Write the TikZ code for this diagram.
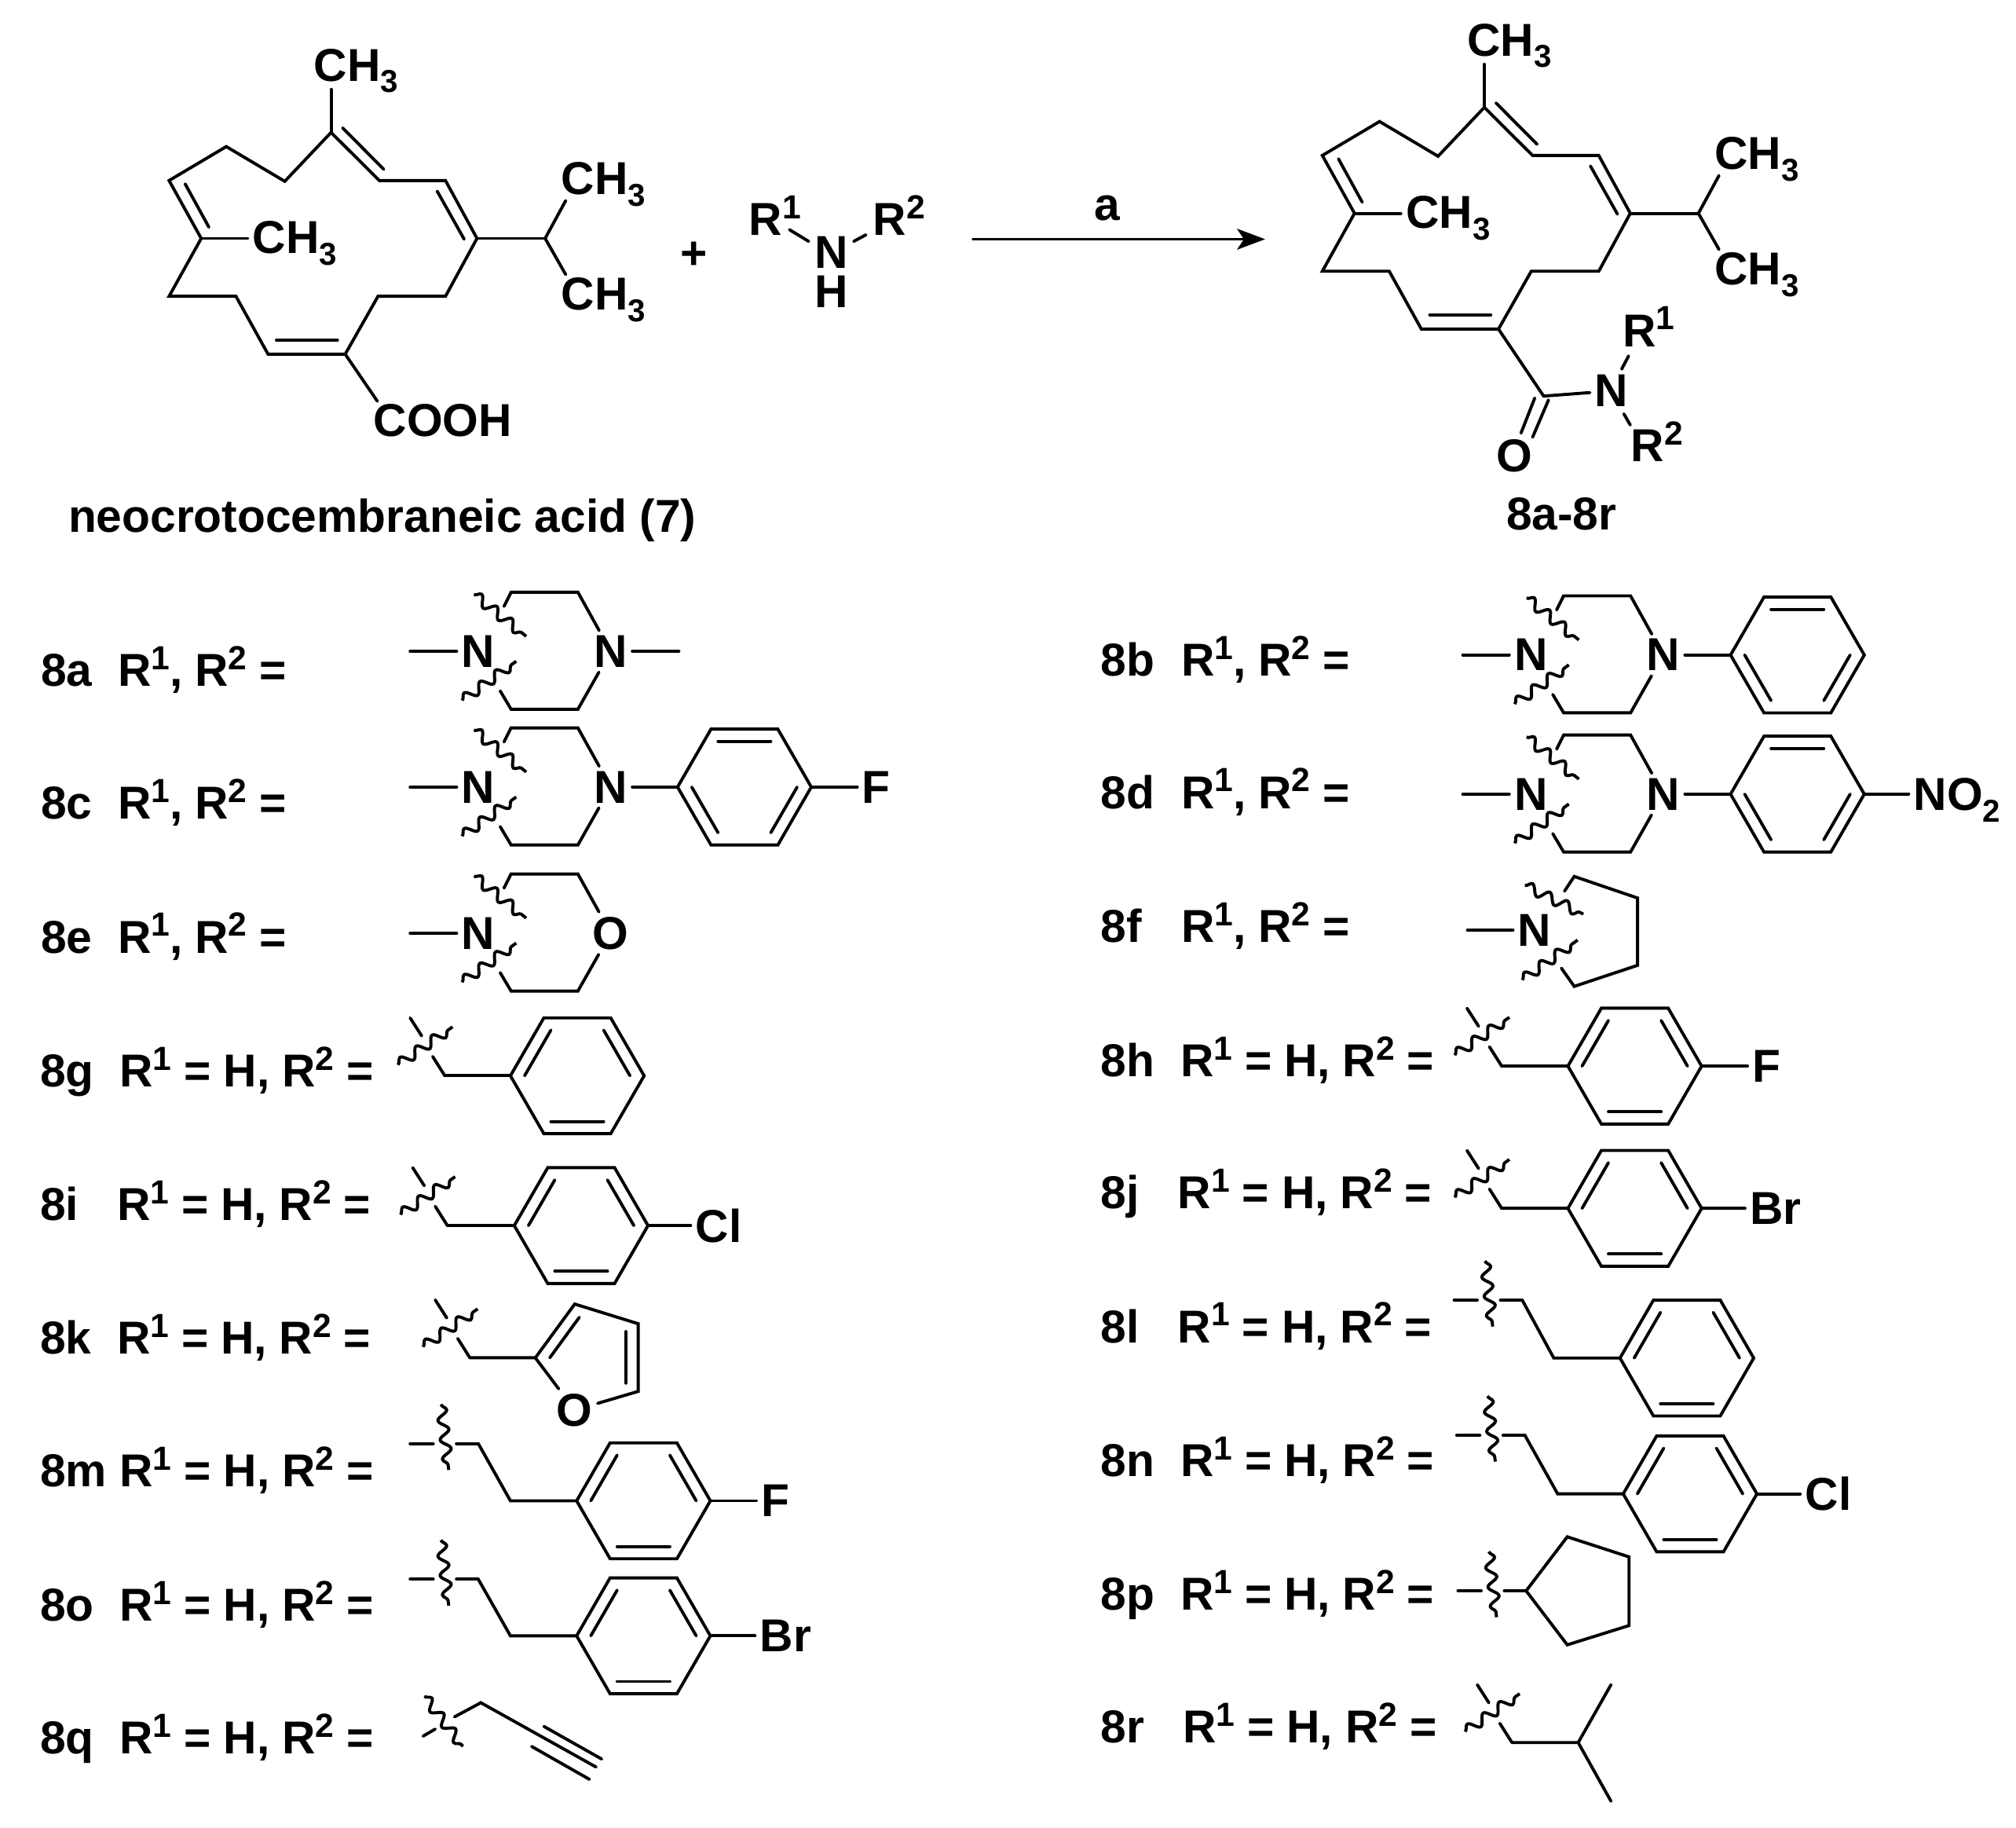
\documentclass[tikz,border=0pt]{standalone}
\usepackage{fontspec}
\setmainfont{Liberation Sans}
\usetikzlibrary{arrows.meta,decorations.pathmorphing}

\newcommand{\supnum}[1]{\raisebox{.36em}{\fontsize{7.4}{8}\selectfont #1}}
\newcommand{\subnum}[1]{\raisebox{-.25em}{\fontsize{7}{8}\selectfont #1}}
\newcommand{\tightgap}{\hspace{.27em}}
\newcommand{\rboth}{R\supnum{1},\tightgap R\supnum{2}\tightgap=}
\newcommand{\rhydro}{R\supnum{1}\tightgap=\tightgap H,\tightgap R\supnum{2}\tightgap=}

\tikzset{
  bond/.style={line width=.68pt, line cap=round},
  wave/.style={line width=.68pt, decorate, decoration={snake, segment length=4.3pt, amplitude=1.1pt}},
  atom/.style={inner sep=.9pt, font=\fontsize{10.2}{12}\selectfont\bfseries},
  chem/.style={atom, anchor=base west, xshift=-.015cm},
  lbl/.style={inner sep=0pt, anchor=base west, xshift=-.015cm, font=\fontsize{10.2}{12}\selectfont\bfseries},
  pics/cembrane/.style={code={
    \coordinate (-a) at (257.5,103);
    \coordinate (-b) at (295,140.4);
    \coordinate (-c) at (346.5,140.4);
    \coordinate (-d) at (371,185.4);
    \coordinate (-e) at (346.5,230.4);
    \coordinate (-f) at (294,230.4);
    \coordinate (-g) at (268.5,275.4);
    \coordinate (-h) at (208.5,275.4);
    \coordinate (-i) at (183.5,230.4);
    \coordinate (-j) at (131.5,230.4);
    \coordinate (-k) at (156.5,185.4);
    \coordinate (-l) at (131.5,140.4);
    \coordinate (-m) at (176,114);
    \coordinate (-n) at (221.5,141);
    \coordinate (-ipr) at (424,185.4);
    \coordinate (-ipa) at (440,156);
    \coordinate (-ipb) at (440,213.5);
    \coordinate (-mea) at (257.5,69.5);
    \coordinate (-meb) at (192.5,185.4);
    \node[chem] (-cha) at (241.8,63) {CH\subnum{3}};
    \node[chem] (-chb) at (194.3,197) {CH\subnum{3}};
    \node[chem] (-chc) at (434.3,151.4) {CH\subnum{3}};
    \node[chem] (-chd) at (434.3,241) {CH\subnum{3}};
    \draw[bond] (-a) -- (-b) -- (-c) -- (-d) -- (-e) -- (-f) -- (-g) -- (-h) -- (-i) -- (-j) -- (-k) -- (-l) -- (-m) -- (-n) -- cycle;
    \draw[bond] (266.5,99.5) -- (298.5,131.7);
    \draw[bond] (340,148.6) -- (361,186);
    \draw[bond] (215,264.5) -- (262.5,264.5);
    \draw[bond] (144,143) -- (162.5,176.7);
    \draw[bond] (-a) -- (-mea);
    \draw[bond] (-k) -- (-meb);
    \draw[bond] (-d) -- (-ipr);
    \draw[bond] (-ipa) -- (-ipr) -- (-ipb);
  }},
  pics/azine/.style={code={
    \node[atom] (-na) at (0,0) {N};
    \node[atom] (-nb) at (103,0) {#1};
    \coordinate (-t) at (-53,0);
    \coordinate (-a) at (25.5,-46);
    \coordinate (-b) at (77.5,-46);
    \coordinate (-c) at (77.5,45);
    \coordinate (-d) at (25.5,45);
    \coordinate (-e) at (20,-35);
    \coordinate (-f) at (17,30.7);
    \coordinate (-g) at (-3.4,-44.3);
    \coordinate (-h) at (37.3,-11.7);
    \coordinate (-i) at (-12.6,38.2);
    \coordinate (-j) at (29.5,7.7);
    \draw[bond] (-t) -- (-na);
    \draw[bond] (-e) -- (-a) -- (-b) -- (-nb);
    \draw[bond] (-f) -- (-d) -- (-c) -- (-nb);
    \draw[wave] (-g) -- (-h);
    \draw[wave] (-i) -- (-j);
  }},
  pics/phenyl/.style={code={
    \coordinate (-e) at (0:52);
    \coordinate (-w) at (180:52);
    \draw[bond] (-e) -- (60:52) -- (120:52) -- (-w) -- (240:52) -- (300:52) -- cycle;
    \draw[bond] (#1:41) -- (#1+60:41);
    \draw[bond] (#1+120:41) -- (#1+180:41);
    \draw[bond] (#1+240:41) -- (#1+300:41);
  }},
  pics/cutdiag/.style={code={
    \coordinate (-o) at (0,0);
    \coordinate (-s) at (-9.5,-15);
    \coordinate (-p) at (-36.5,-8.5);
    \coordinate (-q) at (6,-38);
    \coordinate (-u) at (-27,-45);
    \coordinate (-v) at (-18,-31);
    \draw[bond] (-s) -- (-o);
    \draw[wave] (-p) -- (-q);
    \draw[bond] (-u) -- (-v);
  }},
  pics/cutflat/.style={code={
    \coordinate (-o) at (0,0);
    \coordinate (-s) at (-17,0);
    \coordinate (-p) at (-29,-30.5);
    \coordinate (-q) at (-23,20.5);
    \coordinate (-u) at (-53,0);
    \coordinate (-v) at (-35,0);
    \draw[bond] (-s) -- (-o);
    \draw[wave] (-p) -- (-q);
    \draw[bond] (-u) -- (-v);
  }},
}

\begin{document}
\begin{tikzpicture}[x=0.01cm,y=-0.01cm]
  \useasboundingbox (0,0) rectangle (1568,1421.4);

  \pic (acid) at (0,0) {cembrane};
  \coordinate (acoo) at (293.5,312);
  \draw[bond] (acid-g) -- (acoo);
  \node[lbl] (cooh) at (291.5,339.5) {COOH};
  \node[lbl] (name) at (54,414) {neocrotocembraneic acid (7)};
  \node[atom] (plus) at (540,198.5) {+};

  \node[lbl] (rone) at (583.5,182.9) {R\supnum{1}};
  \node[lbl] (rtwo) at (680,182.9) {R\supnum{2}};
  \node[atom, inner sep=0pt, align=center, font=\fontsize{10.2}{8.54}\selectfont\bfseries] (amine) at (646.5,211.5) {N\\H};
  \coordinate (rea) at (614,178.6);
  \coordinate (reb) at (629,187.7);
  \coordinate (rec) at (664,187.7);
  \coordinate (red) at (673.5,182.6);
  \draw[bond] (rea) -- (reb);
  \draw[bond] (rec) -- (red);

  \coordinate (arra) at (757,186);
  \coordinate (arrb) at (984,186);
  \draw[bond, -{Stealth[length=6.2pt,width=4.6pt,inset=1.5pt]}] (arra) -- (arrb);
  \node[atom] (cond) at (861,162) {a};

  \pic (prod) at (897,-19.5) {cembrane};
  \coordinate (amc) at (1200.6,308);
  \node[atom] (amn) at (1253.4,304) {N};
  \node[atom] (amo) at (1178,354.5) {O};
  \node[lbl] (pone) at (1263,269.4) {R\supnum{1}};
  \node[lbl] (ptwo) at (1269.3,359) {R\supnum{2}};
  \node[lbl] (prodname) at (1172.4,411.8) {8a-8r};
  \draw[bond] (prod-g) -- (amc) -- (amn);
  \draw[bond] (1204.4,311) -- (1192,340);
  \draw[bond] (1193.7,309.5) -- (1183,336.8);
  \draw[bond] (1266.7,276.8) -- (1261.3,287);
  \draw[bond] (1263,321.8) -- (1268,330.5);

  \node[lbl] (ta) at (32.7,533.7) {8a};
  \node[lbl] (ra) at (92.6,533.7) {\rboth};
  \node[lbl] (tc) at (32.7,637) {8c};
  \node[lbl] (rc) at (92.6,637) {\rboth};
  \node[lbl] (te) at (32.7,741) {8e};
  \node[lbl] (re) at (92.6,741) {\rboth};
  \node[lbl] (tg) at (32,845) {8g};
  \node[lbl] (rg) at (94,845) {\rhydro};
  \node[lbl] (ti) at (32,949) {8i};
  \node[lbl] (ri) at (92,949) {\rhydro};
  \node[lbl] (tk) at (32,1053) {8k};
  \node[lbl] (rk) at (92,1053) {\rhydro};
  \node[lbl] (tm) at (32,1156) {8m};
  \node[lbl] (rm) at (94,1156) {\rhydro};
  \node[lbl] (to) at (32,1260.5) {8o};
  \node[lbl] (ro) at (94,1260.5) {\rhydro};
  \node[lbl] (tq) at (32,1363.6) {8q};
  \node[lbl] (rq) at (94,1363.6) {\rhydro};

  \node[lbl] (tb) at (857,525.7) {8b};
  \node[lbl] (rb) at (919.5,525.7) {\rboth};
  \node[lbl] (td) at (857,628.6) {8d};
  \node[lbl] (rd) at (919.5,628.6) {\rboth};
  \node[lbl] (tf) at (857,733) {8f};
  \node[lbl] (rf) at (919.5,733) {\rboth};
  \node[lbl] (th) at (857,837) {8h};
  \node[lbl] (rh) at (919,837) {\rhydro};
  \node[lbl] (tj) at (857,939.6) {8j};
  \node[lbl] (rj) at (917,939.6) {\rhydro};
  \node[lbl] (tl) at (857,1044) {8l};
  \node[lbl] (rl) at (917,1044) {\rhydro};
  \node[lbl] (tn) at (857,1148) {8n};
  \node[lbl] (rn) at (919,1148) {\rhydro};
  \node[lbl] (tp) at (857,1252) {8p};
  \node[lbl] (rp) at (919,1252) {\rhydro};
  \node[lbl] (tr) at (857,1355) {8r};
  \node[lbl] (rr) at (921,1355) {\rhydro};

  \pic (a) at (372,506.5) {azine=N};
  \coordinate (aend) at (528,506.5);
  \draw[bond] (a-nb) -- (aend);

  \pic (c) at (372,612) {azine=N};
  \pic (cph) at (579,612) {phenyl=0};
  \node[atom] (cf) at (681.6,612) {F};
  \draw[bond] (c-nb) -- (cph-w);
  \draw[bond] (cph-e) -- (cf);

  \pic (e) at (372,725.6) {azine=O};

  \pic (b) at (1190.7,509.3) {azine=N};
  \pic (bph) at (1398,509.3) {phenyl=0};
  \draw[bond] (b-nb) -- (bph-w);

  \pic (d) at (1190.7,617.5) {azine=N};
  \pic (dph) at (1398,617.5) {phenyl=0};
  \node[chem] (dno) at (1486,630.3) {NO\subnum{2}};
  \draw[bond] (d-nb) -- (dph-w);
  \draw[bond] (dph-e) -- (dph-e -| dno.west);

  \node[atom] (fn) at (1193.6,723.4) {N};
  \coordinate (ft) at (1141.4,723.4);
  \coordinate (fa) at (1224.4,681.5);
  \coordinate (fb) at (1273.7,698.3);
  \coordinate (fc) at (1273.7,750.6);
  \coordinate (fd) at (1224.4,767);
  \coordinate (fe) at (1216.8,693);
  \coordinate (ff) at (1214.4,752.8);
  \draw[bond] (ft) -- (fn);
  \draw[bond] (fe) -- (fa) -- (fb) -- (fc) -- (fd) -- (ff);
  \draw[wave] (1186,688.5) -- (1231.5,710.8);
  \draw[wave] (1184,762) -- (1227,731);

  \pic (g) at (346,836.5) {cutdiag};
  \pic (gph) at (449,836.5) {phenyl=60};
  \draw[bond] (g-o) -- (gph-w);

  \pic (i) at (348,953) {cutdiag};
  \pic (iph) at (452,953) {phenyl=60};
  \node[atom] (icl) at (559,953) {Cl};
  \draw[bond] (i-o) -- (iph-w);
  \draw[bond] (iph-e) -- (icl);

  \pic (k) at (365.5,1055.8) {cutdiag};
  \coordinate (kb) at (416.4,1055.8);
  \coordinate (kc) at (447,1014);
  \coordinate (kd) at (496.4,1029.3);
  \coordinate (ke) at (496.4,1081.9);
  \node[atom] (ko) at (447,1096.5) {O};
  \draw[bond] (k-o) -- (kb) -- (kc) -- (kd) -- (ke) -- (ko);
  \draw[bond] (kb) -- (ko);
  \draw[bond] (427.6,1055.8) -- (450.6,1024.3);
  \draw[bond] (486.7,1035.4) -- (486.7,1075.5);

  \pic (m) at (372,1122.5) {cutflat};
  \coordinate (mc) at (397,1167);
  \pic (mph) at (500.5,1167) {phenyl=60};
  \node[atom] (mf) at (603,1167) {F};
  \draw[bond] (m-o) -- (mc) -- (mph-w);
  \draw[bond] (mph-e) -- (mf);

  \pic (o) at (372,1228) {cutflat};
  \coordinate (oc) at (397,1272);
  \pic (oph) at (500.5,1272) {phenyl=60};
  \node[atom] (obr) at (611,1272) {Br};
  \draw[bond] (o-o) -- (oc) -- (oph-w);
  \draw[bond] (oph-e) -- (obr);

  \coordinate (qs) at (353.5,1335);
  \coordinate (qc) at (374,1324);
  \coordinate (qe) at (463.6,1374);
  \coordinate (qp) at (330,1319);
  \coordinate (qv) at (360,1358);
  \coordinate (qt) at (329,1350);
  \coordinate (qu) at (338.5,1344.5);
  \draw[bond] (qs) -- (qc) -- (qe);
  \draw[wave] (qp) -- (qv);
  \draw[bond] (qt) -- (qu);
  \draw[bond] (423,1342.4) -- (468,1367.8);
  \draw[bond] (413.5,1358) -- (458.5,1383.6);

  \pic (h) at (1168,829) {cutdiag};
  \pic (hph) at (1271.5,829) {phenyl=60};
  \node[atom] (hf) at (1374,829) {F};
  \draw[bond] (h-o) -- (hph-w);
  \draw[bond] (hph-e) -- (hf);

  \pic (j) at (1168,939.6) {cutdiag};
  \pic (jph) at (1271.5,939.6) {phenyl=60};
  \node[atom] (jbr) at (1381,939.6) {Br};
  \draw[bond] (j-o) -- (jph-w);
  \draw[bond] (jph-e) -- (jbr);

  \pic (l) at (1184,1011) {cutflat};
  \coordinate (lc) at (1208.5,1056);
  \pic (lph) at (1312,1056) {phenyl=60};
  \draw[bond] (l-o) -- (lc) -- (lph-w);

  \pic (n) at (1186,1116) {cutflat};
  \coordinate (nc) at (1211.5,1161.6);
  \pic (nph) at (1314.5,1161.6) {phenyl=60};
  \node[atom] (ncl) at (1422,1161.6) {Cl};
  \draw[bond] (n-o) -- (nc) -- (nph-w);
  \draw[bond] (nph-e) -- (ncl);

  \pic (p) at (1187,1237) {cutflat};
  \coordinate (pb) at (1219,1195);
  \coordinate (pc) at (1267,1210.6);
  \coordinate (pd) at (1267,1264);
  \coordinate (pe) at (1219,1279);
  \draw[bond] (p-o) -- (pb) -- (pc) -- (pd) -- (pe) -- cycle;

  \pic (r) at (1176,1355) {cutdiag};
  \coordinate (rb) at (1227.5,1355);
  \coordinate (rc) at (1253,1310);
  \coordinate (rd) at (1253,1400.6);
  \draw[bond] (r-o) -- (rb) -- (rc);
  \draw[bond] (rb) -- (rd);
\end{tikzpicture}
\end{document}
